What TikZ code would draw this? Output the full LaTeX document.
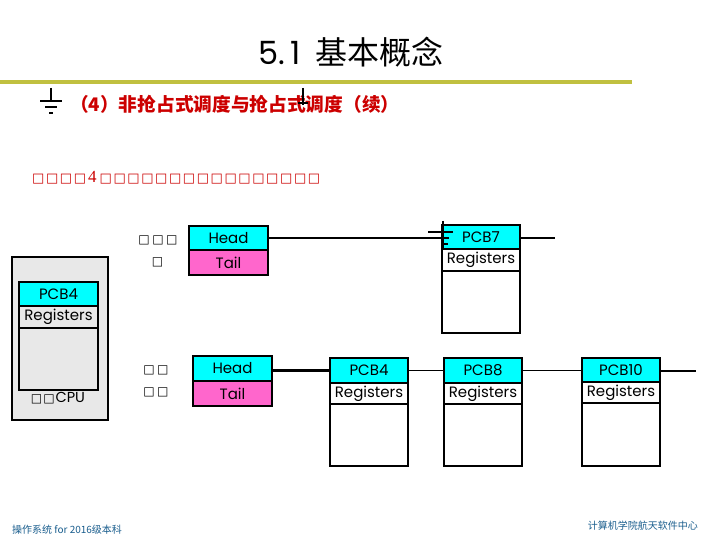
\documentclass[tikz,border=0pt]{standalone}
\usepackage{fontspec}
\setmainfont{Liberation Serif}
\newfontfamily\cjk{Noto Sans CJK SC}
\newfontfamily\gothic{Poppins}
\newfontfamily\symb{DejaVu Sans}

\definecolor{rulebar}{HTML}{C0C040}
\definecolor{headcyan}{HTML}{00FFFF}
\definecolor{tailpink}{HTML}{FF66CC}
\definecolor{cpugray}{HTML}{E8E8E8}
\definecolor{titlered}{HTML}{CC0000}
\definecolor{footblue}{HTML}{1A5E8E}

% a box glyph followed by a fixed gap
\newcommand\sq[1]{{\symb\char"25A1}\kern#1}

\tikzset{
  cell/.style={draw, line width=2pt, inner sep=0pt, minimum width=78pt,
    font=\fontsize{15}{15}\selectfont\gothic},
  hdr/.style={cell, fill=headcyan, minimum height=24pt},
  regs/.style={cell, minimum height=22pt},
  pcbbody/.style={cell, minimum height=62pt},
  tailcell/.style={cell, fill=tailpink, minimum height=25pt},
  link/.style={line width=1.5pt},
  earth/.style={line width=1.3pt},
  tofulabel/.style={inner sep=0pt, font=\fontsize{12}{12}\selectfont},
}

\begin{document}
\begin{tikzpicture}[x=1pt,y=-1pt]
\useasboundingbox (0,0) rectangle (720,540);
\fill[white] (0,0) rectangle (720,540);

% title and rule
\node (title) at (351,52) {\fontsize{32}{32}\selectfont\gothic 5.\kern5pt1\hspace{15pt}\cjk 基本概念};
\fill[rulebar] (0,80) rectangle (632,84.5);

% subtitle with its bullet marks
\draw[earth] (51,88) -- (51,101) (40,101) -- (62,101) (45,107) -- (57,107) (49,113) -- (53,113);
\node[anchor=west, inner sep=0pt] (sub) at (70,104)
  {\color{titlered}\fontsize{18.7}{18.7}\selectfont\cjk\bfseries （4）非抢占式调度与抢占式调度（续）};
\draw[earth] (303,88) -- (303,105) (298,103) -- (308,103);

% red note line
\node[anchor=west, inner sep=0pt, text=titlered, font=\fontsize{13}{13}\selectfont] (note) at (32,178)
  {\sq{1.6pt}\sq{1.6pt}\sq{1.6pt}\sq{2pt}{\fontsize{17}{17}\selectfont 4}\kern3pt\sq{1.6pt}\sq{1.6pt}\sq{1.6pt}\sq{1.6pt}\sq{1.6pt}\sq{1.6pt}\sq{1.6pt}\sq{1.6pt}\sq{1.6pt}\sq{1.6pt}\sq{1.6pt}\sq{1.6pt}\sq{1.6pt}\sq{1.6pt}\sq{1.6pt}\sq{0pt}};

% CPU with the running PCB
\node[draw, line width=2pt, fill=cpugray, minimum width=96pt, minimum height=163pt, inner sep=0pt] (cpu) at (60,338.5) {};
\node[hdr, minimum width=79pt, line width=2.5pt] (c4h) at (58.5,294) {PCB4};
\node[regs, minimum width=79pt, line width=2.5pt] (c4r) at (58.5,317) {Registers};
\node[pcbbody, minimum width=79pt, line width=2.5pt] (c4b) at (58.5,359) {};
\node[inner sep=0pt, font=\fontsize{14.5}{14.5}\selectfont] (cpulabel) at (58,398)
  {{\fontsize{12}{12}\selectfont\sq{1pt}\sq{1pt}}\gothic CPU};

% first queue
\node[tofulabel] (q1a) at (158,240) {\sq{2.5pt}\sq{2.5pt}\sq{0pt}};
\node[tofulabel] (q1b) at (157.5,262) {\sq{0pt}};
\node[hdr, minimum width=79pt] (head1) at (228.5,238) {Head};
\node[tailcell, minimum width=79pt] (tail1) at (228.5,262.5) {Tail};

\node[hdr] (p7h) at (481,237) {PCB7};
\node[regs] (p7r) at (481,260) {Registers};
\node[pcbbody] (p7b) at (481,302) {};
\coordinate (end1) at (555,238);
\draw[link] (head1.east) -- (head1.east -| p7h.west);
\draw[link] (p7h.east |- end1) -- (end1);
\draw[earth] (443,221) -- (443,248) (428,232) -- (453,232) (443,238) -- (449,238) (443,244) -- (448,244);

% second queue
\node[tofulabel] (q2a) at (156,370) {\sq{2.5pt}\sq{0pt}};
\node[tofulabel] (q2b) at (156,392) {\sq{2.5pt}\sq{0pt}};
\node[hdr, minimum width=79pt, minimum height=25pt] (head2) at (232.5,368.5) {Head};
\node[tailcell, minimum width=79pt] (tail2) at (232.5,393.5) {Tail};

\node[hdr, minimum height=25pt] (p4h) at (369,370.5) {PCB4};
\node[regs, minimum height=21pt] (p4r) at (369,393.5) {Registers};
\node[pcbbody] (p4b) at (369,435) {};

\node[hdr, minimum height=25pt] (p8h) at (483,370.5) {PCB8};
\node[regs, minimum height=21pt] (p8r) at (483,393.5) {Registers};
\node[pcbbody] (p8b) at (483,435) {};

\node[hdr] (p10h) at (621,370) {PCB10};
\node[regs, minimum height=21pt] (p10r) at (621,392.5) {Registers};
\node[pcbbody, minimum height=63pt] (p10b) at (621,434.5) {};

\coordinate (end2) at (696,371);
\draw[line width=2.5pt] (p4h.west -| head2.east) -- (p4h.west);
\draw[link] (p4h.east) -- (p8h.west);
\draw[link] (p8h.east) -- (p8h.east -| p10h.west);
\draw[link] (p10h.east |- end2) -- (end2);

% footer
\node[anchor=west, inner sep=0pt, text=footblue, font=\fontsize{10}{10}\selectfont\cjk] (footl) at (12,530) {操作系统 for 2016级本科};
\node[anchor=east, inner sep=0pt, text=footblue, font=\fontsize{10}{10}\selectfont\cjk] (footr) at (698,526) {计算机学院航天软件中心};
\end{tikzpicture}
\end{document}
